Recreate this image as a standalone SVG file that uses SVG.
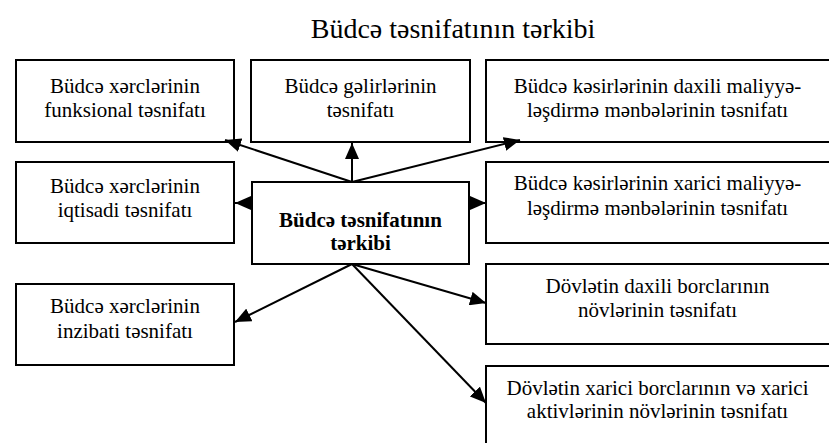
<svg xmlns="http://www.w3.org/2000/svg" width="829" height="443" viewBox="0 0 829 443">
<style>
.box{fill:#fff;stroke:#000;stroke-width:2}
.t{font-family:"Liberation Serif","Times New Roman",serif;font-size:21px;fill:#000;text-anchor:middle}
.b{font-weight:bold}
.title{font-family:"Liberation Serif","Times New Roman",serif;font-size:28px;fill:#000;text-anchor:middle}
.c{stroke:#000;stroke-width:2;fill:none;marker-end:url(#ah)}
</style>
<defs>
<marker id="ah" markerUnits="userSpaceOnUse" markerWidth="18" markerHeight="14" refX="16" refY="7" orient="auto">
<path d="M0,0 L16,7 L0,14 Z" fill="#000"/>
</marker>
</defs>
<rect width="829" height="443" fill="#fff"/>
<text class="title" x="453" y="38">Büdcə təsnifatının tərkibi</text>
<g id="n1"><rect class="box" x="16" y="60" width="218" height="82"/><text class="t" x="125" y="93">Büdcə xərclərinin</text><text class="t" x="125" y="117">funksional təsnifatı</text></g>
<g id="n2"><rect class="box" x="251" y="60" width="219" height="82"/><text class="t" x="360.5" y="93">Büdcə gəlirlərinin</text><text class="t" x="360.5" y="117">təsnifatı</text></g>
<g id="n3"><rect class="box" x="486" y="60" width="345" height="82"/><text class="t" x="657.5" y="93">Büdcə kəsirlərinin daxili maliyyə-</text><text class="t" x="657.5" y="117">ləşdirmə mənbələrinin təsnifatı</text></g>
<g id="n4"><rect class="box" x="16" y="162" width="218" height="81"/><text class="t" x="125" y="193">Büdcə xərclərinin</text><text class="t" x="125" y="217">iqtisadi təsnifatı</text></g>
<g id="center"><rect class="box" x="252" y="182" width="217" height="82"/><text class="t b" x="360.5" y="227">Büdcə təsnifatının</text><text class="t b" x="360.5" y="250">tərkibi</text></g>
<g id="n5"><rect class="box" x="486" y="162" width="345" height="81"/><text class="t" x="657.5" y="190">Büdcə kəsirlərinin xarici maliyyə-</text><text class="t" x="657.5" y="215">ləşdirmə mənbələrinin təsnifatı</text></g>
<g id="n6"><rect class="box" x="486" y="264" width="345" height="80"/><text class="t" x="657.5" y="293">Dövlətin daxili borclarının</text><text class="t" x="657.5" y="317">növlərinin təsnifatı</text></g>
<g id="n7"><rect class="box" x="486" y="366" width="345" height="90"/><text class="t" x="657.5" y="395">Dövlətin xarici borclarının və xarici</text><text class="t" x="657.5" y="418">aktivlərinin növlərinin təsnifatı</text></g>
<g id="n8"><rect class="box" x="16" y="284" width="218" height="81"/><text class="t" x="125" y="313">Büdcə xərclərinin</text><text class="t" x="125" y="338">inzibati təsnifatı</text></g>
<g id="connectors">
<line class="c" x1="352" y1="182" x2="225" y2="140"/>
<line class="c" x1="352" y1="182" x2="352" y2="143"/>
<line class="c" x1="352" y1="182" x2="520" y2="140"/>
<line class="c" x1="252" y1="203" x2="235" y2="203"/>
<line class="c" x1="469" y1="203" x2="486" y2="203"/>
<line class="c" x1="352" y1="264" x2="235" y2="322"/>
<line class="c" x1="352" y1="264" x2="486" y2="303"/>
<line class="c" x1="352" y1="264" x2="486" y2="403"/>
</g>
</svg>
